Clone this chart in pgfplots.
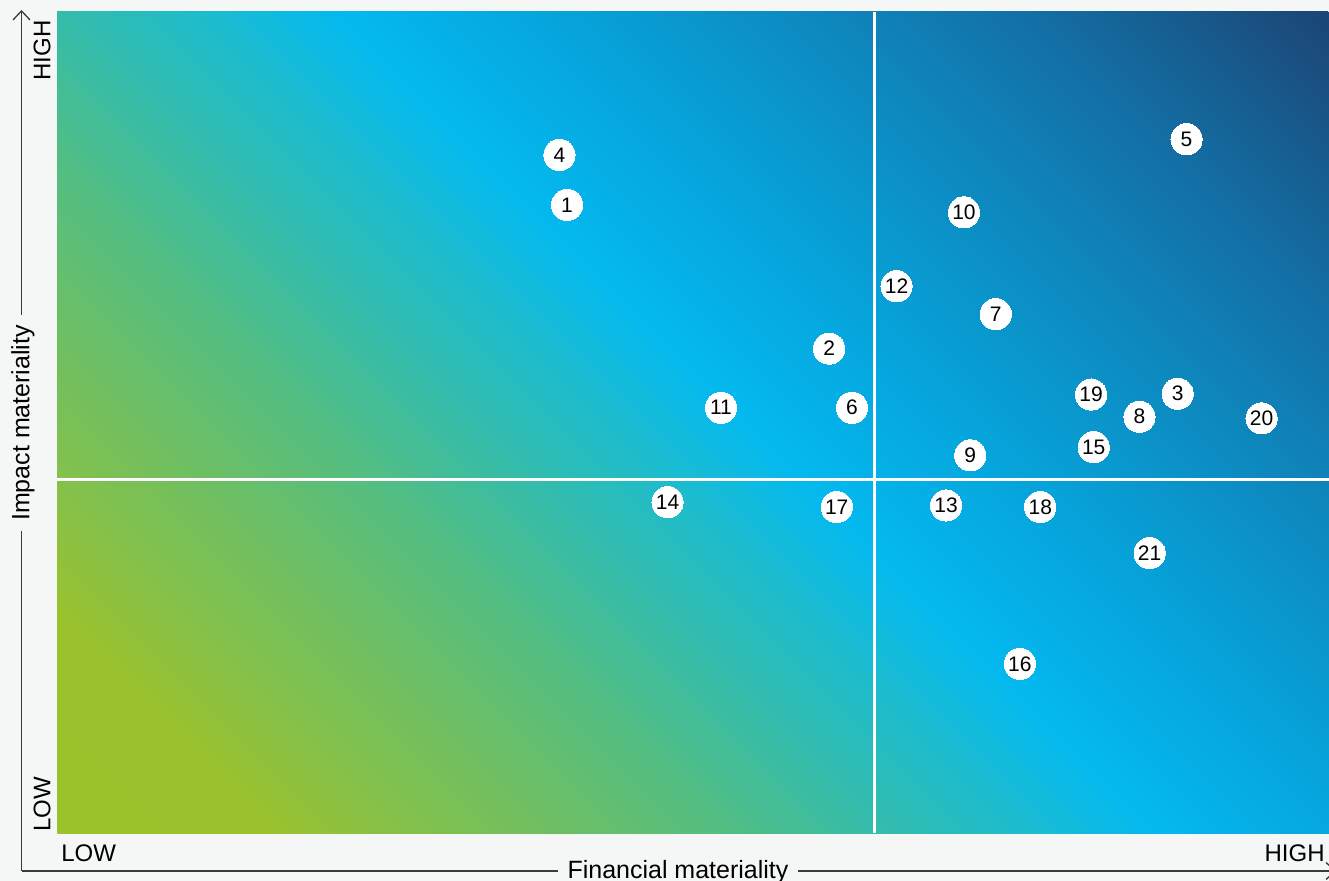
\documentclass[border=0pt]{standalone}
\usepackage{fontspec}
\setmainfont{Liberation Sans}
\usepackage{pgfplots}
\usepackage{pgfplotstable}
\pgfplotsset{compat=1.18}
\usetikzlibrary{arrows.meta}

\definecolor{pagebg}{HTML}{F5F7F7}
\definecolor{axline}{HTML}{3A3A3A}
\definecolor{g01}{HTML}{9AC22B}
\definecolor{g02}{HTML}{9AC22C}
\definecolor{g03}{HTML}{88C147}
\definecolor{g04}{HTML}{6EBF62}
\definecolor{g05}{HTML}{55BE80}
\definecolor{g06}{HTML}{35BCAA}
\definecolor{g07}{HTML}{1BBCD0}
\definecolor{g08}{HTML}{04B9EF}
\definecolor{g09}{HTML}{05A6DD}
\definecolor{g10}{HTML}{0A95CB}
\definecolor{g11}{HTML}{0F82B8}
\definecolor{g12}{HTML}{1370A6}
\definecolor{g13}{HTML}{175A8C}
\definecolor{g14}{HTML}{1B4575}

% diagonal background, low/low = green to high/high = navy
\pgfdeclarehorizontalshading{matbg}{800pt}{%
  color(0pt)=(g01); color(76pt)=(g02); color(118.5pt)=(g03);
  color(176pt)=(g04); color(233.5pt)=(g05); color(290.5pt)=(g06);
  color(344.5pt)=(g07); color(389pt)=(g08); color(459pt)=(g09);
  color(516pt)=(g10); color(576pt)=(g11); color(631pt)=(g12);
  color(688pt)=(g13); color(740pt)=(g14)}

% financial (x) and impact (y) materiality, 0-10
\pgfplotstableread{
x     y     label
3.95  8.26  4
4.01  7.65  1
8.88  8.45  5
7.13  7.56  10
6.60  6.66  12
7.38  6.32  7
6.07  5.90  2
5.22  5.18  11
6.25  5.18  6
8.13  5.34  19
8.81  5.35  3
8.51  5.07  8
9.47  5.05  20
8.15  4.70  15
7.18  4.60  9
4.80  4.03  14
6.13  3.97  17
6.99  3.99  13
7.73  3.97  18
8.59  3.41  21
7.57  2.06  16
}\topics

\begin{document}
\begin{tikzpicture}
\fill[pagebg] (0,0) rectangle (664.5pt,-440.5pt);
\useasboundingbox (0,0) rectangle (664.5pt,-440.5pt);

\begin{axis}[
  at={(28.5pt,-416.5pt)}, anchor=south west,
  scale only axis, width=636pt, height=410.5pt,
  xmin=0, xmax=10, ymin=0, ymax=10,
  axis lines=none, ticks=none, clip=false,
]
\begin{scope}
  \clip (rel axis cs:0,0) rectangle (rel axis cs:1,1);
  \node[inner sep=0pt, outer sep=0pt, rotate=45] at (rel axis cs:0.5,0.5) {\pgfuseshading{matbg}};
\end{scope}
\draw[white, line width=1.5pt] (axis cs:6.423,0) -- (axis cs:6.423,10);
\draw[white, line width=1.5pt] (axis cs:0,4.30) -- (axis cs:10,4.30);

\addplot[only marks, mark=*, mark size=7.8pt, draw=white, fill=white,
  mark options={draw=white, fill=white, line width=0pt},
  nodes near coords, point meta=explicit symbolic,
  nodes near coords align=center,
  every node near coord/.append style={font=\fontsize{10.5}{11}\selectfont, text=black, inner sep=0pt, anchor=center}]
  table[x=x, y=y, meta=label] {\topics};
\end{axis}

% axis arrows and labels
\draw[axline, line width=0.65pt, -{Straight Barb[length=4.5pt, width=8.5pt]}]
  (10.75pt,-435.5pt) -- (10.75pt,-5pt);
\draw[axline, line width=0.65pt, -{Straight Barb[length=4.5pt, width=8.5pt]}]
  (10.75pt,-435.5pt) -- (668pt,-435.5pt);

\node[fill=pagebg, rotate=90, inner xsep=5pt, inner ysep=2pt, font=\fontsize{12.5}{14}\selectfont]
  at (11.5pt,-211.5pt) {Impact materiality};
\node[fill=pagebg, anchor=base, inner xsep=5pt, inner ysep=2pt, font=\fontsize{12.5}{14}\selectfont]
  at (339pt,-439pt) {Financial materiality};

\node[rotate=90, anchor=east, inner sep=0pt, font=\fontsize{12}{14}\selectfont] at (21pt,-10pt) {HIGH};
\node[rotate=90, anchor=west, inner sep=0pt, font=\fontsize{12}{14}\selectfont] at (21pt,-416pt) {LOW};
\node[anchor=base west, inner sep=0pt, font=\fontsize{12}{14}\selectfont] at (30.5pt,-431pt) {LOW};
\node[anchor=base east, inner sep=0pt, font=\fontsize{12}{14}\selectfont] at (662.5pt,-431pt) {HIGH};
\end{tikzpicture}
\end{document}
